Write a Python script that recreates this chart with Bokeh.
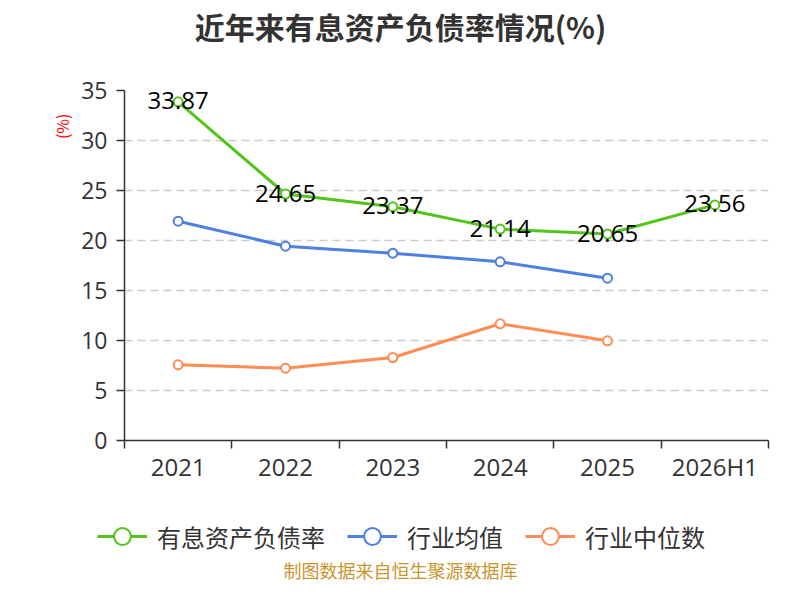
from bokeh.plotting import figure
from bokeh.layouts import column
from bokeh.models import (Range1d, FixedTicker, Legend, LegendItem, ColumnDataSource, Title)
from bokeh.core.properties import value
from bokeh.embed import file_html
from bokeh.resources import INLINE

categories = ["2021", "2022", "2023", "2024", "2025", "2026H1"]
ratio_values = [33.87, 24.65, 23.37, 21.14, 20.65, 23.56]
industry_avg = [21.93, 19.43, 18.73, 17.87, 16.23]
industry_median = [7.57, 7.23, 8.30, 11.67, 9.97]
y_ticks = [0, 5, 10, 15, 20, 25, 30, 35]

title_text = "近年来有息资产负债率情况(%)"
series_names = ["有息资产负债率", "行业均值", "行业中位数"]
footer_text = "制图数据来自恒生聚源数据库"
y_unit = "(%)"

GREEN = "#52c41a"
BLUE = "#4e7fe1"
ORANGE = "#ff8c55"
CJK = "Noto Sans CJK SC"
LAT = "Open Sans"
W = 784
FL, FR = 124, 768          # frame left / right
NAN = float("nan")

# ---- title strip (aligned with the chart frame inside the column)
TOP_H = 70
top = figure(width=W, height=TOP_H, output_backend="svg", toolbar_location=None,
             x_range=Range1d(FL, FR), y_range=Range1d(0, TOP_H),
             x_axis_type=None, y_axis_type=None,
             min_border_left=FL, min_border_right=W - FR, min_border_top=0, min_border_bottom=0)
top.outline_line_color = None
top.text(x=[400], y=[TOP_H - 25], text=[title_text], text_align="center", text_baseline="middle",
         text_font=value(CJK), text_font_size="30px", text_font_style="bold", text_color="#333333")

# ---- main chart
xs = list(range(len(categories)))
MAIN_H = 420
p = figure(width=W, height=MAIN_H, output_backend="svg", toolbar_location=None,
           x_range=Range1d(-0.5, len(categories) - 0.5), y_range=Range1d(0, 35),
           min_border_left=FL, min_border_right=W - FR, min_border_top=20, min_border_bottom=50)
p.outline_line_color = None

p.xaxis.ticker = FixedTicker(ticks=xs, minor_ticks=[i - 0.5 for i in range(len(categories) + 1)])
p.xaxis.major_label_overrides = {i: c for i, c in enumerate(categories)}
p.xaxis.major_tick_line_color = None
p.xaxis.major_tick_out = 0
p.xaxis.major_tick_in = 0
p.xaxis.minor_tick_out = 8
p.xaxis.minor_tick_in = 0
p.xaxis.minor_tick_line_color = "#333333"
p.xaxis.minor_tick_line_width = 1.5
p.xaxis.axis_line_color = "#333333"
p.xaxis.axis_line_width = 1.5
p.xaxis.major_label_text_font = LAT
p.xaxis.major_label_text_font_size = "24px"
p.xaxis.major_label_text_color = "#333333"
p.xaxis.major_label_standoff = 1

p.yaxis.ticker = FixedTicker(ticks=y_ticks)
p.yaxis.major_tick_out = 8
p.yaxis.major_tick_in = 0
p.yaxis.major_tick_line_color = "#333333"
p.yaxis.major_tick_line_width = 1.5
p.yaxis.minor_tick_line_color = None
p.yaxis.axis_line_color = "#333333"
p.yaxis.axis_line_width = 1.5
p.yaxis.major_label_text_font = LAT
p.yaxis.major_label_text_font_size = "23px"
p.yaxis.major_label_text_color = "#333333"
p.yaxis.major_label_standoff = 9

p.xgrid.grid_line_color = None
p.ygrid.grid_line_color = "#cccccc"
p.ygrid.grid_line_width = 1.5
p.ygrid.grid_line_dash = "8 5"

p.add_layout(Title(text=y_unit, align="right", offset=23, text_color="#ff0000",
                   text_font=CJK, text_font_size="16px", text_font_style="normal"), "left")

p.line(xs, ratio_values, line_color=GREEN, line_width=3)
p.scatter(xs, ratio_values, size=9, marker="circle", fill_color="white", line_color=GREEN, line_width=2)
n_avg = len(industry_avg)
p.line(xs[:n_avg], industry_avg, line_color=BLUE, line_width=3)
p.scatter(xs[:n_avg], industry_avg, size=9, marker="circle", fill_color="white", line_color=BLUE, line_width=2)
n_med = len(industry_median)
p.line(xs[:n_med], industry_median, line_color=ORANGE, line_width=3)
p.scatter(xs[:n_med], industry_median, size=9, marker="circle", fill_color="white", line_color=ORANGE, line_width=2)

lab_src = ColumnDataSource(dict(x=xs, y=ratio_values, t=[f"{v:.2f}" for v in ratio_values]))
p.text(x="x", y="y", text="t", source=lab_src, text_align="center", text_baseline="middle",
       text_font=value(LAT), text_font_size="24px", text_color="#000000", y_offset=-1)

# ---- legend + footer strip (separate root, full-width frame)
BOT_H = 94
BOT_TOP = TOP_H + MAIN_H          # 490
LEG_H = 42
bot = figure(width=W, height=BOT_H, output_backend="svg", toolbar_location=None,
             x_range=Range1d(0, W), y_range=Range1d(0, BOT_H),
             x_axis_type=None, y_axis_type=None, min_border=0)
bot.outline_line_color = None
items = []
for name, col in zip(series_names, [GREEN, BLUE, ORANGE]):
    rl = bot.line(x=[NAN], y=[NAN], line_color=col, line_width=3)
    rs = bot.scatter(x=[NAN], y=[NAN], marker="circle", size=9, fill_color="white",
                     line_color=col, line_width=2)
    items.append(LegendItem(label=name, renderers=[rl, rs]))
leg_center = 536
legend = Legend(items=items, orientation="horizontal",
                location=(97, (BOT_TOP + BOT_H) - (leg_center + LEG_H // 2)),
                glyph_width=50, glyph_height=LEG_H, label_standoff=10, spacing=22, padding=0, margin=0,
                border_line_color=None, background_fill_alpha=0,
                label_text_font=CJK, label_text_font_size="24px", label_text_color="#333333",
                label_text_baseline="middle")
bot.add_layout(legend, "center")
bot.text(x=[400], y=[(BOT_TOP + BOT_H) - 569], text=[footer_text], text_align="center",
         text_baseline="middle", text_font=value(CJK), text_font_size="18px", text_color="#c8962e")

open("out.html", "w").write(file_html([column(top, p, spacing=0), bot], INLINE))
